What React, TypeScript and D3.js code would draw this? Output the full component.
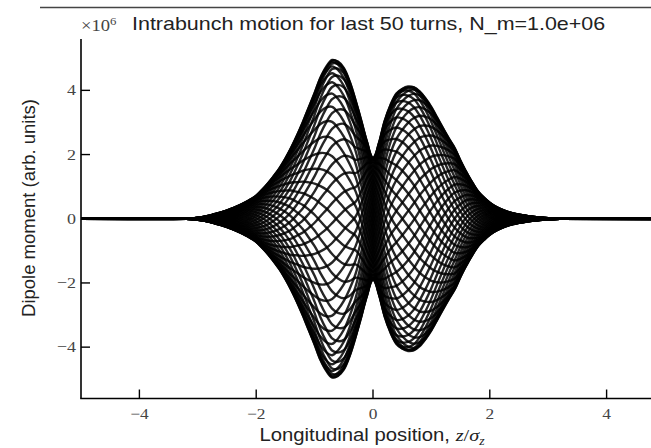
import React from "react";
import * as d3 from "d3";

// Longitudinal sample positions z/sigma_z
const zSamples = [
  -3.2, -3.1, -3.0, -2.9, -2.8, -2.7, -2.6, -2.5, -2.4, -2.3, -2.2, -2.1, -2.0,
  -1.9, -1.8, -1.7, -1.6, -1.5, -1.4, -1.3, -1.2, -1.1, -1.0, -0.9, -0.8, -0.7,
  -0.6, -0.5, -0.4, -0.3, -0.2, -0.1, 0.0, 0.1, 0.2, 0.3, 0.4, 0.5, 0.6, 0.7,
  0.8, 0.9, 1.0, 1.1, 1.2, 1.3, 1.4, 1.5, 1.6, 1.7, 1.8, 1.9, 2.0, 2.1, 2.2,
  2.3, 2.4, 2.5, 2.6, 2.7, 2.8, 2.9, 3.0, 3.1, 3.2,
];

// Mode amplitude envelope (x 10^6), read from the outer edge of the bundle
const envelope = [
  0.0, 0.01, 0.03, 0.06, 0.1, 0.15, 0.2, 0.26, 0.33, 0.41, 0.5, 0.6, 0.72,
  0.9, 1.1, 1.33, 1.58, 1.88, 2.22, 2.6, 3.02, 3.47, 3.92, 4.4, 4.74, 4.95,
  4.9, 4.7, 4.28, 3.7, 3.05, 2.38, 1.9, 2.35, 3.05, 3.55, 3.9, 4.05, 4.12, 4.1,
  3.97, 3.75, 3.48, 3.15, 2.82, 2.5, 2.2, 1.8, 1.45, 1.13, 0.85, 0.66, 0.5, 0.38, 0.29,
  0.22, 0.17, 0.13, 0.1, 0.07, 0.05, 0.03, 0.02, 0.01, 0.0,
];

// Mode phase (radians) along the bunch
const modePhase = [
  -4.68, -4.37, -4.08, -3.8, -3.54, -3.29, -3.06, -2.84, -2.64, -2.45, -2.28, -2.12, -1.98,
  -1.85, -1.73, -1.62, -1.52, -1.43, -1.35, -1.27, -1.21, -1.15, -1.1, -1.05, -1.01, -0.97,
  -0.93, -0.89, -0.85, -0.8, -0.66, -0.38, 0.0, 0.38, 0.66, 0.8, 0.88, 0.94, 1.0, 1.06,
  1.13, 1.2, 1.28, 1.37, 1.47, 1.58, 1.7, 1.83, 1.98, 2.14, 2.32, 2.51, 2.72, 2.94, 3.18,
  3.43, 3.7, 3.98, 4.28, 4.59, 4.92, 5.26, 5.62, 5.99, 6.37,
];

// Betatron phase of each of the last 50 turns (degrees)
const turnPhaseDeg = [
  0, 223.2, 86.4, 309.6, 172.8, 36, 259.2, 122.4, 345.6, 208.8, 72, 295.2, 158.4,
  21.6, 244.8, 108, 331.2, 194.4, 57.6, 280.8, 144, 7.2, 230.4, 93.6, 316.8, 180,
  43.2, 266.4, 129.6, 352.8, 216, 79.2, 302.4, 165.6, 28.8, 252, 115.2, 338.4,
  201.6, 64.8, 288, 151.2, 14.4, 237.6, 100.8, 324, 187.2, 50.4, 273.6, 136.8,
];

const xTicks = [-4, -2, 0, 2, 4];
const yTicks = [-4, -2, 0, 2, 4];

const W = 651;
const H = 448;
const SX = 1.16; // horizontal stretch of the original figure's text

const fmt = (v: number) => (v < 0 ? "\u2212" + Math.abs(v) : String(v));

export default function App() {
  const x = d3.scaleLinear().domain([-5, 5]).range([81, 665]);
  const y = d3.scaleLinear().domain([-5.6, 5.6]).range([398.5, 39]);

  const line = d3
    .line<[number, number]>()
    .x((d) => x(d[0]))
    .y((d) => y(d[1]))
    .curve(d3.curveCatmullRom.alpha(0.5));

  const curves = turnPhaseDeg.map((deg) => {
    const psi = (deg * Math.PI) / 180;
    const pts: [number, number][] = [[-5.2, 0]];
    zSamples.forEach((z, i) => {
      pts.push([z, envelope[i] * Math.cos(modePhase[i] - psi)]);
    });
    pts.push([6.5, 0]);
    return line(pts) as string;
  });

  const serif = "'Liberation Serif', 'DejaVu Serif', serif";
  const sans = "'Liberation Sans', Arial, sans-serif";

  return (
    <svg
      width={W}
      height={H}
      style={{ position: "absolute", left: 0, top: 0, background: "#fff" }}
    >
      <rect x={0} y={0} width={W} height={H} fill="#fff" />
      {/* top rule */}
      <line x1={40} x2={W} y1={7.5} y2={7.5} stroke="#444" strokeWidth={1.5} />

      <defs>
        <clipPath id="plotclip">
          <rect x={81} y={30} width={W - 81} height={368} />
        </clipPath>
      </defs>
      <g clipPath="url(#plotclip)">
        {curves.map((d, i) => (
          <path
            key={i}
            d={d}
            fill="none"
            stroke="#000"
            strokeWidth={2.4}
            strokeOpacity={0.85}
          />
        ))}
      </g>

      {/* axes */}
      <line x1={81} x2={81} y1={39} y2={398.5} stroke="#000" strokeWidth={1.6} />
      <line x1={80.2} x2={W} y1={398.5} y2={398.5} stroke="#000" strokeWidth={1.6} />

      {xTicks.map((t) => (
        <g key={"xt" + t}>
          <line x1={x(t)} x2={x(t)} y1={398.5} y2={389.5} stroke="#000" strokeWidth={1.4} />
          <text
            transform={`translate(${x(t)},419) scale(${SX},1)`}
            textAnchor="middle"
            fontFamily={serif}
            fontSize={15}
            fill="#444"
          >
            {fmt(t)}
          </text>
        </g>
      ))}
      {yTicks.map((t) => (
        <g key={"yt" + t}>
          <line x1={81} x2={90} y1={y(t)} y2={y(t)} stroke="#000" strokeWidth={1.4} />
          <text
            transform={`translate(76,${y(t) + 5}) scale(${SX},1)`}
            textAnchor="end"
            fontFamily={serif}
            fontSize={15.5}
            fill="#444"
          >
            {fmt(t)}
          </text>
        </g>
      ))}

      {/* multiplier */}
      <text
        transform={`translate(81,31) scale(${SX},1)`}
        fontFamily={serif}
        fontSize={16}
        fill="#444"
      >
        ×10
        <tspan fontSize={11} dy={-6}>
          6
        </tspan>
      </text>

      {/* title */}
      <text
        transform={`translate(132,29.5) scale(${SX},1)`}
        fontFamily={sans}
        fontSize={18.5}
        fill="#222"
      >
        Intrabunch motion for last 50 turns, N_m=1.0e+06
      </text>

      {/* x label */}
      <text
        transform={`translate(372,441) scale(${SX},1)`}
        textAnchor="middle"
        fontFamily={sans}
        fontSize={17.5}
        fill="#222"
      >
        Longitudinal position,{" "}
        <tspan fontFamily={serif} fontStyle="italic">
          z
        </tspan>
        <tspan fontFamily={serif}>/</tspan>
        <tspan fontFamily={serif} fontStyle="italic">
          σ
        </tspan>
        <tspan fontFamily={serif} fontStyle="italic" fontSize={12} dy={4}>
          z
        </tspan>
      </text>

      {/* y label */}
      <text
        transform="translate(35,208) rotate(-90)"
        textAnchor="middle"
        fontFamily={sans}
        fontSize={18.5}
        fill="#222"
      >
        Dipole moment (arb. units)
      </text>
    </svg>
  );
}
